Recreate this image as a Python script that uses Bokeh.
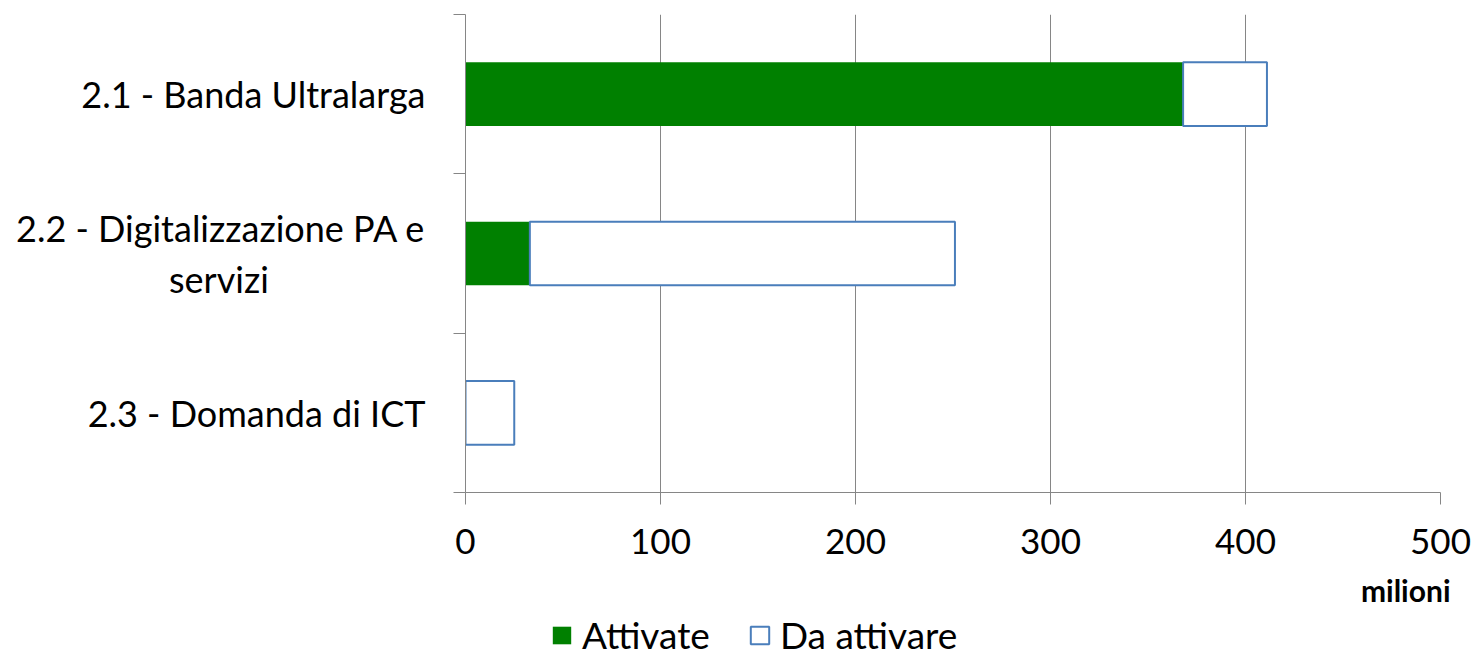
from bokeh.plotting import figure
from bokeh.layouts import column
from bokeh.models import Range1d, FixedTicker, Legend, LegendItem, Label
from bokeh.embed import file_html
from bokeh.resources import INLINE

# ---- data ----
categories = ["2.1 - Banda Ultralarga", "2.2 - Digitalizzazione PA e\nservizi", "2.3 - Domanda di ICT"]
attivate = [368, 33, 0]
da_attivare = [43, 218, 25]
series_names = ["Attivate", "Da attivare"]
x_ticks = [0, 100, 200, 300, 400, 500]
unit_label = "milioni"

FONT = "Lato"
GREY = "#868686"
GREEN = "#008000"
BLUE = "#4a7ebb"
NBSP = "\u00a0"

n = len(categories)
ypos = [n - i - 0.5 for i in range(n)]
totals = [a + d for a, d in zip(attivate, da_attivare)]


def centred_lines(text, pad=17):
    # second line of a wrapped label is centred under the first in the reference
    lines = text.split("\n")
    return "\n".join([lines[0]] + [ln + NBSP * pad for ln in lines[1:]])


p = figure(width=1472, height=568, x_range=Range1d(0, x_ticks[-1]), y_range=Range1d(0, n),
           output_backend="svg", toolbar_location=None, frame_align=False,
           min_border_left=465, min_border_right=32, min_border_top=14, min_border_bottom=76)
p.outline_line_color = None
p.background_fill_color = "white"
p.border_fill_color = "white"

g = p.hbar(y=ypos, left=0, right=attivate, height=0.4, fill_color=GREEN, line_color=None)
w = p.hbar(y=ypos, left=attivate, right=totals, height=0.4, fill_color="white",
           line_color=BLUE, line_width=2)

# x axis
xa = p.xaxis[0]
xa.ticker = FixedTicker(ticks=x_ticks)
xa.major_tick_out = 12
xa.major_tick_in = 0
xa.minor_tick_line_color = None
xa.axis_line_color = GREY
xa.major_tick_line_color = GREY
xa.major_label_text_font = FONT
xa.major_label_text_font_size = "35px"
xa.major_label_text_color = "black"
xa.major_label_standoff = 24

# y axis: labels at category centres, minor ticks at category boundaries
ya = p.yaxis[0]
ya.ticker = FixedTicker(ticks=ypos, minor_ticks=list(range(n + 1)))
ya.major_label_overrides = {yc: centred_lines(cat) for yc, cat in zip(ypos, categories)}
ya.major_tick_line_color = None
ya.major_tick_out = 0
ya.major_tick_in = 0
ya.minor_tick_out = 12
ya.minor_tick_in = 0
ya.minor_tick_line_color = GREY
ya.axis_line_color = GREY
ya.major_label_text_font = FONT
ya.major_label_text_font_size = "36px"
ya.major_label_text_color = "black"
ya.major_label_text_line_height = 1.17
ya.major_label_standoff = 28

p.xgrid.ticker = FixedTicker(ticks=x_ticks)
p.xgrid.grid_line_color = GREY
p.ygrid.grid_line_color = None

# ---- legend strip below ----
H2 = 657 - 568
q = figure(width=1472, height=H2, x_range=Range1d(0, 1472), y_range=Range1d(0, H2),
           output_backend="svg", toolbar_location=None, frame_align=False,
           min_border_left=0, min_border_right=0, min_border_top=0, min_border_bottom=0)
q.axis.visible = False
q.grid.grid_line_color = None
q.outline_line_color = None
q.background_fill_color = "white"
q.border_fill_color = "white"

nan = float("nan")
lg = q.hbar(y=[nan], left=[nan], right=[nan], height=1, fill_color=GREEN, line_color=None)
lw = q.hbar(y=[nan], left=[nan], right=[nan], height=1, fill_color="white", line_color=BLUE, line_width=2)

q.add_layout(Label(x=1450, y=H2 - 21, text=unit_label, text_align="right", text_baseline="middle",
                   text_font=FONT, text_font_size="30px", text_font_style="bold", text_color="black"))

legend = Legend(items=[LegendItem(label=series_names[0], renderers=[lg]),
                       LegendItem(label=series_names[1], renderers=[lw])],
                orientation="horizontal", location=(550, 0))
legend.label_text_font = FONT
legend.label_text_font_size = "37px"
legend.label_text_color = "black"
legend.label_standoff = 9
legend.spacing = 38
legend.glyph_width = 23
legend.glyph_height = 22
legend.padding = 0
legend.margin = 0
legend.border_line_color = None
legend.background_fill_alpha = 0
q.add_layout(legend)

layout = column(p, q, spacing=0)
open("out.html", "w").write(file_html(layout, INLINE))
